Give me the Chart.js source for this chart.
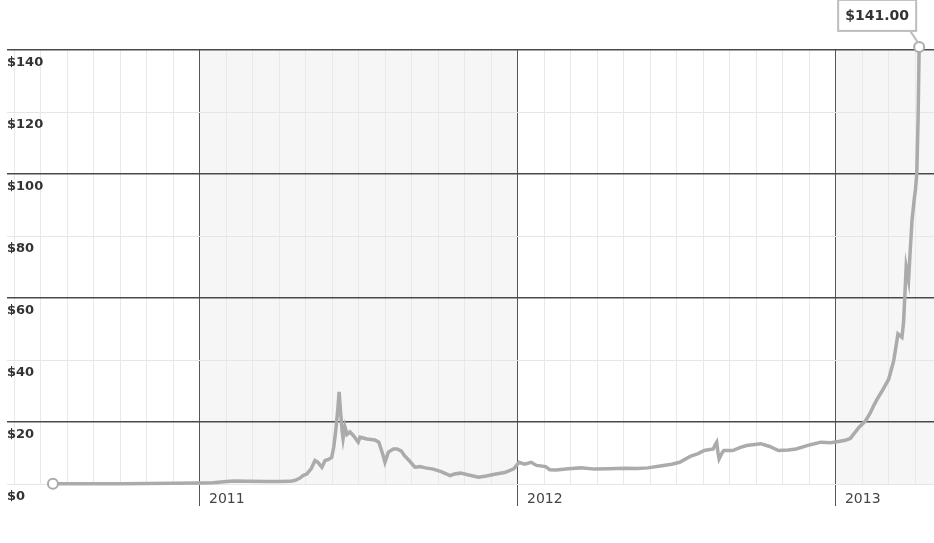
<!DOCTYPE html>
<html>
<head>
  <meta http-equiv="Content-type" content="text/html; charset=utf-8">
  <title>Bitcoin price</title>
  <style>
    html, body { margin: 0; padding: 0; background: #fff; }
    #wrap { width: 934px; height: 543px; }
  </style>
</head>
<body>
  <div id="wrap">
    <canvas id="canvas" width="934" height="543"></canvas>
  </div>

  <script src="https://cdn.jsdelivr.net/npm/chart.js"></script>

  <script>
    // x = months since Jan 2010 (12 = 2011, 24 = 2012, 36 = 2013)
    const months = [
      6.45, 7.0, 8.0, 9.0, 10.0, 11.0, 12.0, 12.5, 13.0, 13.3, 13.8, 14.5, 15.0, 15.4, 15.6, 15.77,
      15.9, 16.03, 16.2, 16.34, 16.45, 16.6, 16.72, 16.85, 16.97, 17.05, 17.12, 17.2, 17.25, 17.3,
      17.36, 17.4, 17.47, 17.55, 17.66, 17.8, 17.97, 18.04, 18.3, 18.6, 18.75, 18.9, 18.98, 19.11,
      19.3, 19.44, 19.6, 19.71, 19.9, 20.11, 20.3, 20.51, 20.8, 21.1, 21.44, 21.6, 21.84, 22.1,
      22.51, 22.8, 23.17, 23.5, 23.84, 24.04, 24.25, 24.5, 24.7, 25.04, 25.2, 25.44, 25.9, 26.37,
      26.9, 27.44, 28.0, 28.5, 28.9, 29.43, 29.8, 30.1, 30.5, 30.8, 31.03, 31.37, 31.45, 31.5,
      31.55, 31.59, 31.7, 31.77, 32.1, 32.4, 32.63, 33.16, 33.5, 33.83, 34.2, 34.5, 35.0, 35.43,
      35.8, 36.1, 36.35, 36.54, 36.86, 37.11, 37.3, 37.42, 37.55, 37.74, 37.99, 38.18, 38.3, 38.34,
      38.49, 38.55, 38.59, 38.65, 38.74, 38.78, 38.87, 38.95, 39.0, 39.05, 39.1, 39.14
    ];
    const prices = [
      0.06, 0.07, 0.07, 0.10, 0.20, 0.25, 0.30, 0.40, 0.80, 0.95, 0.90, 0.80, 0.80, 0.85, 1.2, 1.9,
      2.8, 3.2, 5.0, 7.6, 7.0, 5.4, 7.6, 7.9, 8.6, 12, 17, 24, 29.7, 24,
      17.3, 14.6, 18.4, 16, 16.8, 15.5, 13.5, 15.1, 14.5, 14.2, 13.5, 9.5, 7.0, 10.3,
      11.3, 11.3, 10.6, 9.2, 7.5, 5.4, 5.6, 5.2, 4.8, 4.0, 2.7, 3.2, 3.5, 3.0,
      2.2, 2.6, 3.2, 3.7, 4.9, 7.0, 6.4, 7.0, 6.0, 5.6, 4.6, 4.5, 4.9, 5.2,
      4.8, 4.9, 5.1, 5.0, 5.2, 5.9, 6.4, 7.0, 8.9, 9.8, 10.8, 11.3, 12.8, 13.5,
      10, 8.1, 10, 10.8, 10.8, 11.8, 12.4, 13.0, 12.1, 10.8, 11.0, 11.3, 12.6, 13.5,
      13.3, 13.7, 14.1, 14.7, 18.2, 20.3, 23, 25.2, 27.3, 30.0, 33.8, 39.8, 46.2, 48.4,
      47.3, 52, 59.2, 70, 65.7, 72, 85, 91.6, 95, 100, 118, 141
    ];

    // axis ticks
    const monthTicks = [];
    for (let m = 5; m <= 39; m++) monthTicks.push(m);
    const yearTicks = { 12: '2011', 24: '2012', 36: '2013' };
    const priceTicks = [0, 20, 40, 60, 80, 100, 120, 140];
    const shadedYears = [[12, 24], [36, 40]];

    const FONT = '"DejaVu Sans", sans-serif';

    // light grey background for alternate years
    const bandsPlugin = {
      id: 'bands',
      beforeDraw(chart) {
        const { ctx, chartArea, scales } = chart;
        ctx.save();
        ctx.fillStyle = '#f6f6f6';
        shadedYears.forEach(([a, b]) => {
          const x1 = Math.max(scales.x.getPixelForValue(a), chartArea.left);
          const x2 = Math.min(scales.x.getPixelForValue(b), chartArea.right);
          ctx.fillRect(x1, chartArea.top, x2 - x1, chartArea.bottom - chartArea.top);
        });
        ctx.restore();
      }
    };

    // "$141.00" call-out box on the last point
    const calloutPlugin = {
      id: 'callout',
      afterDatasetsDraw(chart) {
        const { ctx } = chart;
        const meta = chart.getDatasetMeta(0);
        const pt = meta.data[meta.data.length - 1];
        const text = '$' + prices[prices.length - 1].toFixed(2);
        const right = pt.x - 3, bottom = pt.y - 16;
        const w = 78, h = 31;
        ctx.save();
        ctx.strokeStyle = '#bdbdbd';
        ctx.lineWidth = 2;
        ctx.beginPath();
        ctx.moveTo(right - 6, bottom);
        ctx.lineTo(pt.x - 1, pt.y - 4);
        ctx.stroke();
        ctx.fillStyle = '#fff';
        ctx.fillRect(right - w, bottom - h, w, h);
        ctx.strokeRect(right - w, bottom - h, w, h);
        ctx.fillStyle = '#333';
        ctx.font = 'bold 14px ' + FONT;
        ctx.textAlign = 'center';
        ctx.textBaseline = 'middle';
        ctx.fillText(text, right - w / 2, bottom - h / 2 + 1);
        ctx.restore();
      }
    };

    const lastIdx = prices.length - 1;

    const chart = new Chart(document.getElementById('canvas').getContext('2d'), {
      type: 'line',
      data: {
        datasets: [{
          data: months.map((m, i) => ({ x: m, y: prices[i] })),
          borderColor: '#ababab',
          borderWidth: 3.5,
          tension: 0,
          fill: false,
          clip: false,
          pointRadius: (c) => (c.dataIndex === 0 || c.dataIndex === lastIdx) ? 5 : 0,
          pointBackgroundColor: '#fff',
          pointBorderColor: '#ababab',
          pointBorderWidth: 2
        }]
      },
      options: {
        responsive: false,
        animation: false,
        events: [],
        layout: { autoPadding: false, padding: { top: 50, left: 7, right: 0, bottom: 19 } },
        plugins: {
          legend: { display: false },
          tooltip: { enabled: false }
        },
        scales: {
          x: {
            type: 'linear',
            min: 4.717,
            max: 39.70,
            afterBuildTicks: (scale) => { scale.ticks = monthTicks.map(v => ({ value: v })); },
            afterFit: (scale) => {
              scale.height = 40;
              scale.paddingLeft = 0;
              scale.paddingRight = 0;
            },
            border: { display: false },
            grid: {
              color: (c) => yearTicks[c.tick.value] ? '#555' : '#e9e9e9',
              lineWidth: 1,
              tickLength: 22,
              tickColor: (c) => yearTicks[c.tick.value] ? '#555' : 'rgba(0,0,0,0)'
            },
            ticks: {
              autoSkip: false,
              maxRotation: 0,
              align: 'start',
              labelOffset: 9,
              padding: -15,
              color: '#444',
              font: { family: FONT, size: 14 },
              callback: (v) => yearTicks[v] || ''
            }
          },
          y: {
            min: 0,
            max: 140,
            afterBuildTicks: (scale) => { scale.ticks = priceTicks.map(v => ({ value: v })); },
            border: { display: false },
            grid: {
              color: (c) => c.tick.value % 40 === 20 ? '#4a4a4a' : '#e6e6e6',
              lineWidth: (c) => c.tick.value % 40 === 20 ? 1.6 : 1,
              drawTicks: false
            },
            ticks: {
              mirror: true,
              padding: 0,
              labelOffset: 13,
              color: '#333',
              font: { family: FONT, size: 13, weight: 'bold' },
              callback: (v) => '$' + v
            }
          }
        }
      },
      plugins: [bandsPlugin, calloutPlugin]
    });
  </script>
</body>
</html>
